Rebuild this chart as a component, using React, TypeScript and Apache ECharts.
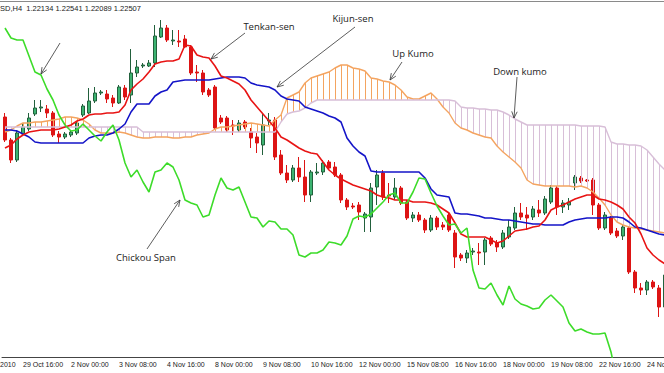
import React, { useEffect, useRef } from "react";
import * as echarts from "echarts";

// ---- axis ----
const tickLabels = [
  "29 Oct 16:00", "2 Nov 00:00", "3 Nov 08:00", "4 Nov 16:00", "8 Nov 00:00",
  "9 Nov 08:00", "10 Nov 16:00", "12 Nov 00:00", "15 Nov 08:00", "16 Nov 16:00",
  "18 Nov 00:00", "19 Nov 08:00", "22 Nov 16:00", "24 Nov 00:00",
];
const firstTickBar = 3;
const barsPerTick = 8;
const headerText = "SD,H4  1.22134 1.22541 1.22089 1.22507";

// ---- candles (H4 bars) ----
const open = [
  1.2413, 1.2390, 1.2370, 1.2396, 1.2401, 1.2416, 1.2422, 1.2421, 1.2417, 1.2396,
  1.2393, 1.2395, 1.2397, 1.2415, 1.2417, 1.2429, 1.2437, 1.2436, 1.2432, 1.2427,
  1.2442, 1.2435, 1.2457, 1.2464, 1.2464, 1.2467, 1.2493, 1.2502, 1.2489, 1.2489,
  1.2491, 1.2483, 1.2458, 1.2457, 1.2440, 1.2443, 1.2412, 1.2412, 1.2405, 1.2400,
  1.2408, 1.2398, 1.2393, 1.2385, 1.2409, 1.2410, 1.2375, 1.2357, 1.2350, 1.2362,
  1.2353, 1.2335, 1.2357, 1.2358, 1.2368, 1.2363, 1.2355, 1.2330, 1.2324, 1.2325,
  1.2312, 1.2313, 1.2343, 1.2357, 1.2335, 1.2333, 1.2342, 1.2328, 1.2312, 1.2315,
  1.2310, 1.2300, 1.2312, 1.2305, 1.2315, 1.2297, 1.2275, 1.2272, 1.2278, 1.2278,
  1.2278, 1.2292, 1.2287, 1.2283, 1.2293, 1.2302, 1.2317, 1.2315, 1.2313, 1.2320,
  1.2317, 1.2328, 1.2342, 1.2323, 1.2325, 1.2347, 1.2352, 1.2350, 1.2350, 1.2325,
  1.2302, 1.2312, 1.2299, 1.2294, 1.2302, 1.2258, 1.2242, 1.2240, 1.2248, 1.2242,
  1.2223,
];
const close = [
  1.2390, 1.2370, 1.2397, 1.2403, 1.2412, 1.2422, 1.2423, 1.2417, 1.2395, 1.2393,
  1.2396, 1.2398, 1.2407, 1.2424, 1.2429, 1.2437, 1.2438, 1.2431, 1.2427, 1.2443,
  1.2433, 1.2457, 1.2463, 1.2465, 1.2467, 1.2494, 1.2502, 1.2490, 1.2490, 1.2488,
  1.2483, 1.2457, 1.2457, 1.2438, 1.2435, 1.2402, 1.2408, 1.2400, 1.2404, 1.2407,
  1.2403, 1.2392, 1.2387, 1.2405, 1.2410, 1.2373, 1.2357, 1.2350, 1.2362, 1.2353,
  1.2335, 1.2358, 1.2358, 1.2367, 1.2362, 1.2355, 1.2330, 1.2323, 1.2323, 1.2318,
  1.2316, 1.2342, 1.2355, 1.2333, 1.2334, 1.2342, 1.2327, 1.2312, 1.2315, 1.2310,
  1.2300, 1.2312, 1.2303, 1.2303, 1.2300, 1.2273, 1.2272, 1.2277, 1.2279, 1.2277,
  1.2290, 1.2286, 1.2283, 1.2297, 1.2303, 1.2317, 1.2313, 1.2312, 1.2321, 1.2317,
  1.2331, 1.2342, 1.2323, 1.2327, 1.2328, 1.2353, 1.2349, 1.2349, 1.2325, 1.2302,
  1.2315, 1.2297, 1.2294, 1.2303, 1.2258, 1.2242, 1.2240, 1.2248, 1.2243, 1.2223,
  1.2255,
];
const low = [
  1.2388, 1.2367, 1.2368, 1.2394, 1.2399, 1.2414, 1.2418, 1.2412, 1.2393, 1.2387,
  1.2391, 1.2393, 1.2395, 1.2413, 1.2416, 1.2427, 1.2435, 1.2427, 1.2423, 1.2426,
  1.2430, 1.2427, 1.2453, 1.2462, 1.2463, 1.2463, 1.2492, 1.2488, 1.2485, 1.2483,
  1.2482, 1.2455, 1.2448, 1.2435, 1.2433, 1.2400, 1.2406, 1.2398, 1.2395, 1.2398,
  1.2401, 1.2382, 1.2377, 1.2375, 1.2405, 1.2370, 1.2355, 1.2347, 1.2348, 1.2348,
  1.2328, 1.2328, 1.2355, 1.2355, 1.2360, 1.2353, 1.2327, 1.2320, 1.2321, 1.2310,
  1.2298, 1.2298, 1.2325, 1.2330, 1.2327, 1.2330, 1.2325, 1.2310, 1.2308, 1.2308,
  1.2297, 1.2298, 1.2300, 1.2300, 1.2298, 1.2262, 1.2269, 1.2267, 1.2275, 1.2265,
  1.2265, 1.2284, 1.2278, 1.2281, 1.2291, 1.2300, 1.2310, 1.2300, 1.2310, 1.2313,
  1.2315, 1.2326, 1.2315, 1.2317, 1.2320, 1.2340, 1.2347, 1.2348, 1.2315, 1.2300,
  1.2300, 1.2295, 1.2292, 1.2290, 1.2256, 1.2237, 1.2235, 1.2235, 1.2241, 1.2213,
  1.2220,
];
const high = [
  1.2417, 1.2392, 1.2400, 1.2406, 1.2417, 1.2430, 1.2430, 1.2425, 1.2419, 1.2399,
  1.2398, 1.2400, 1.2409, 1.2426, 1.2442, 1.2443, 1.2440, 1.2440, 1.2435, 1.2445,
  1.2445, 1.2481, 1.2470, 1.2467, 1.2470, 1.2505, 1.2510, 1.2505, 1.2500, 1.2500,
  1.2495, 1.2485, 1.2465, 1.2460, 1.2442, 1.2445, 1.2415, 1.2414, 1.2410, 1.2410,
  1.2410, 1.2402, 1.2397, 1.2417, 1.2417, 1.2413, 1.2380, 1.2365, 1.2365, 1.2373,
  1.2370, 1.2360, 1.2367, 1.2370, 1.2370, 1.2368, 1.2357, 1.2332, 1.2327, 1.2328,
  1.2318, 1.2347, 1.2360, 1.2360, 1.2347, 1.2352, 1.2344, 1.2330, 1.2318, 1.2318,
  1.2312, 1.2315, 1.2314, 1.2308, 1.2317, 1.2300, 1.2277, 1.2280, 1.2282, 1.2287,
  1.2292, 1.2294, 1.2290, 1.2300, 1.2310, 1.2323, 1.2327, 1.2323, 1.2324, 1.2330,
  1.2334, 1.2345, 1.2344, 1.2330, 1.2332, 1.2355, 1.2354, 1.2351, 1.2352, 1.2327,
  1.2318, 1.2314, 1.2302, 1.2305, 1.2304, 1.2260, 1.2247, 1.2250, 1.2250, 1.2245,
  1.2258,
];

// ---- Ichimoku lines ----
const tenkanSen = [
  1.2382, 1.2385, 1.2391, 1.2395, 1.2398, 1.2399, 1.2400, 1.2400, 1.2400, 1.2401,
  1.2403, 1.2405, 1.2409, 1.2411, 1.2415, 1.2416, 1.2416, 1.2417, 1.2417, 1.2418,
  1.2425, 1.2440, 1.2446, 1.2451, 1.2458, 1.2466, 1.2468, 1.2469, 1.2469, 1.2471,
  1.2485, 1.2484, 1.2475, 1.2473, 1.2472, 1.2464, 1.2454, 1.2452, 1.2449, 1.2446,
  1.2440, 1.2430, 1.2423, 1.2416, 1.2409, 1.2402, 1.2393, 1.2390, 1.2386, 1.2382,
  1.2379, 1.2377, 1.2376, 1.2368, 1.2360, 1.2355, 1.2351, 1.2348, 1.2345, 1.2343,
  1.2341, 1.2339, 1.2335, 1.2333, 1.2332, 1.2330, 1.2330, 1.2330, 1.2328, 1.2328,
  1.2328, 1.2327, 1.2325, 1.2321, 1.2317, 1.2307, 1.2296, 1.2293, 1.2293, 1.2293,
  1.2293, 1.2290, 1.2287, 1.2289, 1.2294, 1.2299, 1.2300, 1.2301, 1.2303, 1.2304,
  1.2310, 1.2320, 1.2323, 1.2325, 1.2328, 1.2331, 1.2333, 1.2335, 1.2335, 1.2331,
  1.2330, 1.2328, 1.2325, 1.2321, 1.2313, 1.2307, 1.2296, 1.2282, 1.2275, 1.2270,
  1.2266,
];
const kijunSen = [
  1.2400, 1.2400, 1.2399, 1.2396, 1.2393, 1.2388, 1.2387, 1.2387, 1.2387, 1.2387,
  1.2387, 1.2387, 1.2387, 1.2387, 1.2392, 1.2394, 1.2395, 1.2395, 1.2397, 1.2401,
  1.2406, 1.2418, 1.2426, 1.2426, 1.2426, 1.2434, 1.2438, 1.2440, 1.2448, 1.2449,
  1.2450, 1.2450, 1.2450, 1.2450, 1.2450, 1.2451, 1.2452, 1.2453, 1.2453, 1.2453,
  1.2452, 1.2447, 1.2445, 1.2444, 1.2443, 1.2440, 1.2434, 1.2431, 1.2430, 1.2429,
  1.2423, 1.2421, 1.2419, 1.2417, 1.2414, 1.2412, 1.2408, 1.2392, 1.2384, 1.2378,
  1.2374, 1.2359, 1.2358, 1.2358, 1.2358, 1.2358, 1.2358, 1.2358, 1.2358, 1.2358,
  1.2352, 1.2341, 1.2335, 1.2334, 1.2333, 1.2317, 1.2316, 1.2316, 1.2315, 1.2314,
  1.2312, 1.2312, 1.2311, 1.2310, 1.2310, 1.2309, 1.2308, 1.2307, 1.2306, 1.2306,
  1.2305, 1.2305, 1.2305, 1.2305, 1.2308, 1.2310, 1.2311, 1.2312, 1.2312, 1.2312,
  1.2312, 1.2313, 1.2313, 1.2312, 1.2308, 1.2303, 1.2302, 1.2300, 1.2298, 1.2296,
  1.2295,
];
const senkouSpanA = [
  1.2398, 1.2400, 1.2404, 1.2407, 1.2407, 1.2408, 1.2408, 1.2409, 1.2410, 1.2411,
  1.2413, 1.2413, 1.2412, 1.2410, 1.2406, 1.2400, 1.2397, 1.2397, 1.2397, 1.2398,
  1.2397, 1.2395, 1.2393, 1.2392, 1.2392, 1.2393, 1.2393, 1.2393, 1.2392, 1.2392,
  1.2393, 1.2393, 1.2395, 1.2396, 1.2397, 1.2401, 1.2403, 1.2403, 1.2404, 1.2405,
  1.2406, 1.2407, 1.2406, 1.2405, 1.2404, 1.2410, 1.2415, 1.2432, 1.2435, 1.2438,
  1.2447, 1.2452, 1.2454, 1.2456, 1.2458, 1.2462, 1.2465, 1.2465, 1.2462, 1.2461,
  1.2459, 1.2452, 1.2451, 1.2449, 1.2448, 1.2445, 1.2440, 1.2433, 1.2431, 1.2431,
  1.2434, 1.2437, 1.2431, 1.2423, 1.2417, 1.2407, 1.2402, 1.2400, 1.2397, 1.2395,
  1.2393, 1.2392, 1.2384, 1.2378, 1.2373, 1.2368, 1.2362, 1.2350, 1.2346, 1.2345,
  1.2344, 1.2344, 1.2344, 1.2344, 1.2344, 1.2343, 1.2344, 1.2342, 1.2338, 1.2332,
  1.2325, 1.2315, 1.2308, 1.2305, 1.2303, 1.2302, 1.2301, 1.2300, 1.2299, 1.2298,
  1.2297,
];
const senkouSpanB = [
  1.2403, 1.2403, 1.2403, 1.2403, 1.2403, 1.2403, 1.2403, 1.2403, 1.2403, 1.2403,
  1.2403, 1.2403, 1.2403, 1.2403, 1.2403, 1.2403, 1.2403, 1.2403, 1.2403, 1.2403,
  1.2403, 1.2403, 1.2403, 1.2398, 1.2398, 1.2398, 1.2398, 1.2398, 1.2398, 1.2398,
  1.2398, 1.2398, 1.2398, 1.2398, 1.2398, 1.2398, 1.2398, 1.2398, 1.2398, 1.2398,
  1.2398, 1.2398, 1.2398, 1.2398, 1.2398, 1.2398, 1.2408, 1.2416, 1.2418, 1.2419,
  1.2422, 1.2427, 1.2430, 1.2430, 1.2430, 1.2430, 1.2430, 1.2430, 1.2430, 1.2430,
  1.2430, 1.2430, 1.2430, 1.2430, 1.2430, 1.2430, 1.2430, 1.2430, 1.2430, 1.2430,
  1.2430, 1.2430, 1.2430, 1.2430, 1.2430, 1.2429, 1.2423, 1.2422, 1.2422, 1.2421,
  1.2421, 1.2420, 1.2420, 1.2418, 1.2415, 1.2411, 1.2408, 1.2405, 1.2405, 1.2405,
  1.2405, 1.2405, 1.2405, 1.2405, 1.2405, 1.2405, 1.2404, 1.2404, 1.2404, 1.2404,
  1.2403, 1.2388, 1.2386, 1.2386, 1.2385, 1.2385, 1.2384, 1.2380, 1.2373, 1.2366,
  1.2360,
];
const chikouSpan = [
  1.2502, 1.2492, 1.2490, 1.2490, 1.2474, 1.2458, 1.2455, 1.2441, 1.2430, 1.2415,
  1.2405, 1.2399, 1.2400, 1.2406, 1.2400, 1.2394, 1.2389, 1.2398, 1.2405, 1.2390,
  1.2367, 1.2353, 1.2360, 1.2348, 1.2338, 1.2358, 1.2360, 1.2367, 1.2363, 1.2350,
  1.2330, 1.2327, 1.2325, 1.2313, 1.2315, 1.2335, 1.2352, 1.2342, 1.2340, 1.2343,
  1.2328, 1.2313, 1.2312, 1.2303, 1.2309, 1.2308, 1.2301, 1.2301, 1.2295, 1.2275,
  1.2273, 1.2277, 1.2277, 1.2280, 1.2288, 1.2287, 1.2285, 1.2294, 1.2311, 1.2314,
  1.2313, 1.2316, 1.2322, 1.2328, 1.2335, 1.2337, 1.2327, 1.2327, 1.2338, 1.2352,
  1.2351, 1.2337, 1.2324, 1.2314, 1.2305, 1.2306, 1.2297, 1.2302, 1.2260, 1.2242,
  1.2241, 1.2247, 1.2235, 1.2225, 1.2244, 1.2231, 1.2226, 1.2224, 1.2221, 1.2222,
  1.2230, 1.2235, 1.2229, 1.2223, 1.2207, 1.2199, 1.2201, 1.2198, 1.2196, 1.2196,
  1.2197, 1.2178, 1.2150,
];

const C = {
  tenkan: "#e81414",
  kijun: "#1414c8",
  chikou: "#3ddc2a",
  spanA: "#f4a460",
  spanB: "#d8bfd8",
  bull: "#3cb371",
  bullBorder: "#22603c",
  bear: "#dd1414",
  text: "#222222",
};

function arrow(x1: number, y1: number, x2: number, y2: number) {
  const ang = Math.atan2(y2 - y1, x2 - x1);
  const L = 7;
  const a = 0.4;
  const p1 = [x2 - L * Math.cos(ang - a), y2 - L * Math.sin(ang - a)];
  const p2 = [x2 - L * Math.cos(ang + a), y2 - L * Math.sin(ang + a)];
  return [
    { type: "line", silent: true, z: 100, shape: { x1, y1, x2, y2 }, style: { stroke: "#333", lineWidth: 0.8 } },
    { type: "polyline", silent: true, z: 100, shape: { points: [p1, [x2, y2], p2] }, style: { stroke: "#333", fill: null, lineWidth: 0.8 } },
  ];
}

function label(text: string, cx: number, cy: number) {
  return {
    type: "text",
    silent: true,
    z: 100,
    x: cx,
    y: cy,
    style: {
      text,
      fill: C.text,
      font: '9.5px "Open Sans"',
      align: "center",
      verticalAlign: "middle",
    },
  };
}

export default function App() {
  const ref = useRef<HTMLDivElement>(null);
  useEffect(() => {
    if (!ref.current) return;
    const chart = echarts.init(ref.current, undefined, { renderer: "svg" });
    const categories = open.map((_, i) => String(i));
    const isTick = (i: number) => i >= firstTickBar && (i - firstTickBar) % barsPerTick === 0;
    const candleData = open.map((o, i) => [o, close[i], low[i], high[i]]);
    const kumoData = senkouSpanA.map((a, i) => [i, a, senkouSpanB[i]]);

    const lineSeries = (name: string, data: number[], color: string, width: number, z: number) => ({
      name,
      type: "line",
      data,
      symbol: "none",
      z,
      clip: true,
      lineStyle: { color, width },
      emphasis: { disabled: true },
    });

    chart.setOption({
      animation: false,
      backgroundColor: "#ffffff",
      grid: {
        left: 2,
        top: 2,
        width: 666,
        bottom: 16,
        containLabel: false,
        outerBoundsMode: "none",
      },
      xAxis: {
        type: "category",
        data: categories,
        boundaryGap: true,
        axisLine: { lineStyle: { color: "#444", width: 1 } },
        axisTick: {
          alignWithLabel: true,
          interval: (i: number) => isTick(i),
          length: 3,
          lineStyle: { color: "#444" },
        },
        axisLabel: {
          interval: (i: number) => isTick(i),
          formatter: (_v: string, i: number) => tickLabels[(i - firstTickBar) / barsPerTick] ?? "",
          align: "left",
          margin: 4,
          fontSize: 7,
          fontFamily: "Liberation Sans",
          color: C.text,
          hideOverlap: false,
        },
        splitLine: { show: false },
      },
      yAxis: {
        type: "value",
        min: 1.2173,
        max: 1.2528,
        show: false,
        splitLine: { show: false },
      },
      series: [
        {
          name: "Price",
          type: "candlestick",
          data: candleData,
          barWidth: 4,
          z: 1,
          itemStyle: {
            color: C.bull,
            color0: C.bear,
            borderColor: C.bullBorder,
            borderColor0: C.bear,
            borderColorDoji: "#555",
            borderWidth: 1,
          },
        },
        {
          name: "Kumo",
          type: "custom",
          z: 2,
          clip: true,
          data: kumoData,
          encode: { x: 0, y: [1, 2] },
          renderItem: (_p: any, api: any) => {
            const i = api.value(0);
            const a = api.value(1);
            const b = api.value(2);
            const p1 = api.coord([i, a]);
            const p2 = api.coord([i, b]);
            const x = Math.round(p1[0]) + 0.5;
            return {
              type: "line",
              shape: { x1: x, y1: p1[1], x2: x, y2: p2[1] },
              style: { stroke: a >= b ? C.spanA : C.spanB, lineWidth: 1 },
            };
          },
        },
        lineSeries("Senkou Span A", senkouSpanA, C.spanA, 1.4, 3),
        lineSeries("Senkou Span B", senkouSpanB, C.spanB, 1.4, 3),
        lineSeries("Kijun-sen", kijunSen, C.kijun, 1.6, 4),
        lineSeries("Tenkan-sen", tenkanSen, C.tenkan, 1.6, 5),
        lineSeries("Chikou Span", chikouSpan, C.chikou, 1.6, 6),
      ],
      graphic: [
        { type: "line", silent: true, shape: { x1: 0, y1: 1.5, x2: 664, y2: 1.5 }, style: { stroke: "#8a8a8a", lineWidth: 1 } },
        {
          type: "text", silent: true, x: 0, y: 4,
          style: { text: headerText, fill: C.text, font: '7.5px "Liberation Sans"' },
        },
        {
          type: "text", silent: true, x: 0, y: 361,
          style: { text: "2010", fill: C.text, font: '7px "Liberation Sans"' },
        },
        label("Tenkan-sen", 269, 26),
        ...arrow(245, 33, 211, 59),
        ...arrow(60, 43, 41, 74),
        label("Kijun-sen", 353, 18),
        ...arrow(355, 27, 277, 87),
        label("Up Kumo", 413, 53),
        ...arrow(402, 62, 390, 80),
        label("Down kumo", 520, 71),
        ...arrow(517, 77, 514, 118),
        label("Chickou Span", 146, 257),
        ...arrow(147, 249, 180, 200),
      ],
    });
    return () => chart.dispose();
  }, []);
  return (
    <div
      ref={ref}
      style={{ position: "fixed", left: 0, top: 0, width: 664, height: 373, background: "#fff" }}
    />
  );
}
